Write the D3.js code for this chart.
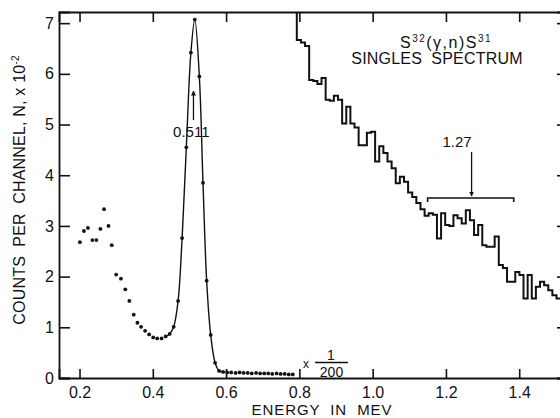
<!DOCTYPE html>
<html>
<head>
<meta charset="utf-8">
<script src="https://cdn.jsdelivr.net/npm/d3@7"></script>
<style>
  body { margin: 0; background: #fff; }
  svg { display: block; font-family: "Liberation Sans", Arial, sans-serif; }
  .pre { white-space: pre; }
</style>
</head>
<body>
<div id="chart"></div>
<script>
// channel energies (MeV) and counts (x 10^-2) below 0.8 MeV
const pointEnergy = [0.201, 0.212, 0.223, 0.235, 0.246, 0.257, 0.267, 0.279, 0.288, 0.300, 0.313,
    0.325, 0.336, 0.348, 0.358, 0.368, 0.379, 0.390, 0.401, 0.412, 0.424,
    0.435, 0.446, 0.457, 0.469, 0.480,
    0.4915, 0.504, 0.5146, 0.527, 0.537, 0.547, 0.558, 0.570, 0.581,
    0.592, 0.603, 0.614, 0.626, 0.637, 0.648, 0.659, 0.670, 0.682, 0.693, 0.704, 0.715, 0.726, 0.738, 0.749, 0.760, 0.771, 0.782]
const pointCount = [2.68, 2.90, 2.96, 2.72, 2.72, 2.94, 3.33, 3.00, 2.62, 2.04, 1.96,
    1.75, 1.52, 1.25, 1.09, 1.01, 0.93, 0.86, 0.80, 0.78, 0.78,
    0.82, 0.87, 1.01, 1.52, 2.76,
    4.55, 6.42, 7.07, 5.95, 3.85, 1.92, 0.85, 0.30, 0.14,
    0.12, 0.11, 0.11, 0.10, 0.11, 0.10, 0.10, 0.09, 0.10, 0.09, 0.09, 0.09, 0.08, 0.09, 0.08, 0.08, 0.07, 0.07]

// histogram part above 0.8 MeV (scaled x 1/200)
const histStart = 0.793
const histWidth = 0.01125
const histCount = [6.67, 6.62, 6.55, 5.88, 5.86, 5.80, 5.92, 5.49, 5.47, 5.57, 5.49, 5.02, 5.35, 5.02, 4.94, 4.59,
    4.59, 4.84, 4.86, 4.27, 4.57, 4.44, 4.27, 4.14, 3.84, 3.97, 3.87, 3.66, 3.57, 3.45, 3.33, 3.20,
    3.25, 3.22, 2.75, 3.25, 3.02, 3.00, 3.21, 3.15, 3.05, 3.31, 3.11, 2.82, 3.02, 2.62, 2.59, 2.59,
    2.79, 2.23, 2.17, 1.90, 1.90, 2.09, 2.03, 1.57, 2.03, 1.57, 1.80, 1.90, 1.83, 1.73, 1.63, 1.57]

const xTicks = [0.2, 0.4, 0.6, 0.8, 1.0, 1.2, 1.4]
const yTicks = [0, 1, 2, 3, 4, 5, 6, 7]

const width = 560, height = 418
const plotLeft = 59, plotRight = 563, plotTop = 12, plotBottom = 378

const svg = d3.select('#chart')
    .append('svg')
    .attr('width', width)
    .attr('height', height)

const x = d3.scaleLinear().domain([0.144, 1.5195]).range([plotLeft, plotRight])
const y = d3.scaleLinear().domain([0, 7.22]).range([plotBottom, plotTop])

const defs = svg.append('defs')
defs.append('clipPath')
    .attr('id', 'plot')
    .append('rect')
    .attr('x', plotLeft).attr('y', plotTop)
    .attr('width', plotRight - plotLeft).attr('height', plotBottom - plotTop)

// axes, ticks pointing inward
const fmt = d => d.toFixed(1)
const bottomAxis = svg.append('g')
    .attr('transform', `translate(0,${plotBottom})`)
    .call(d3.axisBottom(x).tickValues(xTicks).tickFormat(fmt).tickSize(-9).tickPadding(9))
const topAxis = svg.append('g')
    .attr('transform', `translate(0,${plotTop})`)
    .call(d3.axisTop(x).tickValues(xTicks).tickFormat('').tickSize(-10))
const leftAxis = svg.append('g')
    .attr('transform', `translate(${plotLeft},0)`)
    .call(d3.axisLeft(y).tickValues(yTicks).tickFormat(d3.format('d')).tickSize(-11).tickPadding(5))
const rightAxis = svg.append('g')
    .attr('transform', `translate(${plotRight},0)`)
    .call(d3.axisRight(y).tickValues(yTicks).tickFormat('').tickSize(-6))

;[bottomAxis, topAxis, leftAxis, rightAxis].forEach(g => {
    g.select('.domain').attr('stroke', '#111').attr('stroke-width', 1.8)
    g.selectAll('.tick line').attr('stroke', '#111').attr('stroke-width', 1.6)
    g.selectAll('.tick text').attr('fill', '#111').attr('font-size', 16)
        .attr('font-family', '"Liberation Sans", Arial, sans-serif')
})

const plot = svg.append('g').attr('clip-path', 'url(#plot)')

// low energy points
const points = pointEnergy.map((e, i) => ({e: e, n: pointCount[i]}))

const curve = d3.line()
    .x(d => x(d.e))
    .y(d => y(d.n))
    .curve(d3.curveCatmullRom.alpha(0.5))

plot.append('path')
    .datum(points.filter(d => d.e >= 0.43 && d.e <= 0.595))
    .attr('d', curve)
    .attr('fill', 'none')
    .attr('stroke', '#111')
    .attr('stroke-width', 1.4)

plot.selectAll('circle')
    .data(points)
    .enter()
    .append('circle')
    .attr('cx', d => x(d.e))
    .attr('cy', d => y(d.n))
    .attr('r', 1.9)
    .attr('fill', '#111')

// step histogram, coming in from above the frame
const steps = [{e: histStart, n: 7.6}]
histCount.forEach((n, i) => steps.push({e: histStart + i * histWidth, n: n}))
steps.push({e: histStart + histCount.length * histWidth, n: histCount[histCount.length - 1]})

plot.append('path')
    .datum(steps)
    .attr('d', d3.line().x(d => x(d.e)).y(d => y(d.n)).curve(d3.curveStepAfter))
    .attr('fill', 'none')
    .attr('stroke', '#111')
    .attr('stroke-width', 2)

// annotations
const ink = '#111'
defs.append('marker')
    .attr('id', 'head')
    .attr('viewBox', '0 0 10 10')
    .attr('refX', 9).attr('refY', 5)
    .attr('markerWidth', 5).attr('markerHeight', 6)
    .attr('markerUnits', 'userSpaceOnUse')
    .attr('orient', 'auto')
    .append('path')
    .attr('d', 'M0,0 L10,5 L0,10 Z')
    .attr('fill', ink)

svg.append('line')
    .attr('x1', x(0.511)).attr('x2', x(0.511))
    .attr('y1', 120).attr('y2', 91)
    .attr('stroke', ink).attr('stroke-width', 1.3)
    .attr('marker-end', 'url(#head)')
svg.append('text')
    .attr('x', x(0.505)).attr('y', 136.5)
    .attr('text-anchor', 'middle')
    .attr('font-size', 15)
    .attr('fill', ink)
    .text('0.511')

svg.append('text')
    .attr('x', 457).attr('y', 147)
    .attr('text-anchor', 'middle')
    .attr('font-size', 15)
    .attr('fill', ink)
    .text('1.27')
svg.append('line')
    .attr('x1', x(1.27)).attr('x2', x(1.27))
    .attr('y1', 152).attr('y2', 196)
    .attr('stroke', ink).attr('stroke-width', 1.3)
    .attr('marker-end', 'url(#head)')
svg.append('path')
    .attr('d', `M${x(1.15)},${y(3.55) + 4} V${y(3.55)} H${x(1.385)} V${y(3.55) + 4}`)
    .attr('fill', 'none')
    .attr('stroke', ink)
    .attr('stroke-width', 1.6)

// x 1/200 scale note
svg.append('text').attr('x', 303).attr('y', 368).attr('font-size', 12).attr('fill', ink).text('x')
svg.append('text').attr('x', 331).attr('y', 360).attr('text-anchor', 'middle')
    .attr('font-size', 14).attr('fill', ink).text('1')
svg.append('line').attr('x1', 315).attr('x2', 348).attr('y1', 362.5).attr('y2', 362.5)
    .attr('stroke', ink).attr('stroke-width', 1.3)
svg.append('text').attr('x', 331.5).attr('y', 376.5).attr('text-anchor', 'middle')
    .attr('font-size', 14).attr('fill', ink).text('200')

// title
const title = svg.append('text')
    .attr('x', 446).attr('y', 47.5)
    .attr('text-anchor', 'middle')
    .attr('font-size', 16)
    .attr('letter-spacing', 1.5)
    .attr('fill', ink)
title.append('tspan').text('S')
title.append('tspan').attr('font-size', 10).attr('dy', -6).text('32')
title.append('tspan').attr('dy', 6).text('(γ,n)S')
title.append('tspan').attr('font-size', 10).attr('dy', -6).text('31')

svg.append('text')
    .attr('class', 'pre')
    .attr('x', 437).attr('y', 64)
    .attr('text-anchor', 'middle')
    .attr('font-size', 16)
    .attr('letter-spacing', 0.2)
    .attr('fill', ink)
    .text('SINGLES  SPECTRUM')

// axis titles
svg.append('text')
    .attr('class', 'pre')
    .attr('x', 322).attr('y', 415)
    .attr('text-anchor', 'middle')
    .attr('font-size', 15)
    .attr('letter-spacing', 0.9)
    .attr('fill', ink)
    .text('ENERGY  IN  MEV')

const yTitle = svg.append('text')
    .attr('class', 'pre')
    .attr('transform', 'translate(25,190) rotate(-90)')
    .attr('text-anchor', 'middle')
    .attr('font-size', 16)
    .attr('letter-spacing', 0.2)
    .attr('fill', ink)
yTitle.append('tspan').text('COUNTS  PER  CHANNEL, N, x 10')
yTitle.append('tspan').attr('font-size', 10).attr('dy', -6).text('-2')
</script>
</body>
</html>
